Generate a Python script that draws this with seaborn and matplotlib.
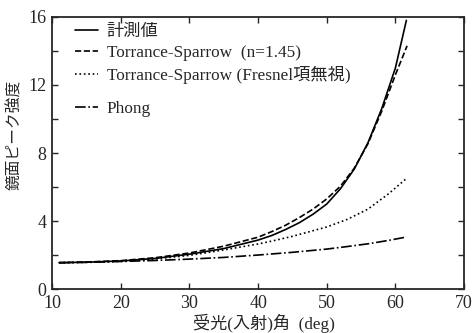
import pandas as pd
import seaborn as sns
import matplotlib.pyplot as plt
import matplotlib.transforms as mtransforms
from matplotlib.ticker import MultipleLocator

# values
x_meas = [11, 15, 20, 25, 30, 35, 40, 42, 44, 46, 48, 50, 52, 54, 56, 58, 60, 61.6]
y_meas = [1.55, 1.58, 1.65, 1.8, 2.05, 2.38, 2.88, 3.15, 3.5, 3.9, 4.4, 5.0, 5.9, 7.05, 8.6, 10.6, 13.0, 15.8]

x_ts = [11, 15, 20, 25, 30, 35, 40, 42, 44, 46, 48, 50, 52, 54, 56, 58, 60, 61.7]
y_ts = [1.55, 1.59, 1.67, 1.84, 2.12, 2.52, 3.05, 3.38, 3.75, 4.2, 4.7, 5.3, 6.05, 7.1, 8.55, 10.45, 12.6, 14.3]

x_nofr = [11, 15, 20, 25, 30, 35, 40, 42, 45, 47, 50, 53, 56, 59, 61.6]
y_nofr = [1.55, 1.57, 1.63, 1.77, 1.98, 2.3, 2.65, 2.82, 3.1, 3.32, 3.65, 4.1, 4.7, 5.6, 6.5]

x_phong = [11, 15, 20, 25, 30, 35, 40, 45, 50, 53, 56, 59, 61.6]
y_phong = [1.55, 1.57, 1.62, 1.68, 1.76, 1.86, 2.0, 2.16, 2.35, 2.5, 2.66, 2.86, 3.06]

labels = ["計測値", "Torrance-Sparrow  (n=1.45)",
          "Torrance-Sparrow (Fresnel項無視)", "Phong"]
styles = ["-", "--", ":", "-."]

sns.set_theme(style="ticks")
plt.rcParams['font.family'] = ['Liberation Serif', 'Noto Sans CJK JP']

series = [(x_meas, y_meas), (x_ts, y_ts), (x_nofr, y_nofr), (x_phong, y_phong)]
frames = []
for (xs, ys), lab in zip(series, labels):
    frames.append(pd.DataFrame({"angle": xs, "peak": ys, "model": lab}))
df = pd.concat(frames, ignore_index=True)

fig = plt.figure(figsize=(4.74, 3.33), dpi=100)
ax = fig.add_axes([0.110, 0.132, 0.869, 0.817])

for lab, ls in zip(labels, styles):
    sub = df[df["model"] == lab]
    sns.lineplot(x="angle", y="peak", data=sub, ax=ax, color="black",
                 linestyle=ls, linewidth=1.2, sort=False, label=lab)

ax.set_xlim(10, 70)
ax.set_ylim(0, 16)
ax.xaxis.set_major_locator(MultipleLocator(10))
ax.yaxis.set_major_locator(MultipleLocator(4))
ax.yaxis.set_minor_locator(MultipleLocator(2))
ax.tick_params(which="both", direction="in", top=True, right=True,
               length=4, width=1, labelsize=13)
ax.tick_params(axis="x", pad=4.5)
ax.tick_params(axis="y", pad=4)
for sp in ax.spines.values():
    sp.set_linewidth(1.3)

ax.set_xlabel("受光(入射)角  (deg)", fontsize=12.3, va="center")
ax.xaxis.set_label_coords(0.515, -0.125)
ax.set_ylabel("鏡面ピーク強度", fontsize=11.3, va="center")
ax.yaxis.set_label_coords(-0.09, 0.566)

# legend: first three rows, then Phong a little further down
handles, labs = ax.get_legend_handles_labels()
leg_kw = dict(frameon=False, fontsize=12.4, handlelength=1.35,
              handletextpad=0.5, labelspacing=0.28, borderaxespad=0,
              borderpad=0)
leg1 = ax.legend(handles[:3], labs[:3], loc="upper left",
                 bbox_to_anchor=(0.055, 0.975), **leg_kw)
ax.add_artist(leg1)
ax.legend(handles[3:], labs[3:], loc="upper left",
          bbox_to_anchor=(0.055, 0.69), **leg_kw)

# nudge the y "0" label so it does not collide with the x "10" label
fig.canvas.draw()
zero = ax.yaxis.get_major_ticks()[0].label1
zero.set_transform(zero.get_transform() +
                   mtransforms.ScaledTranslation(-1 / 100, 4 / 100, fig.dpi_scale_trans))

fig.savefig("out.png", dpi=100)
